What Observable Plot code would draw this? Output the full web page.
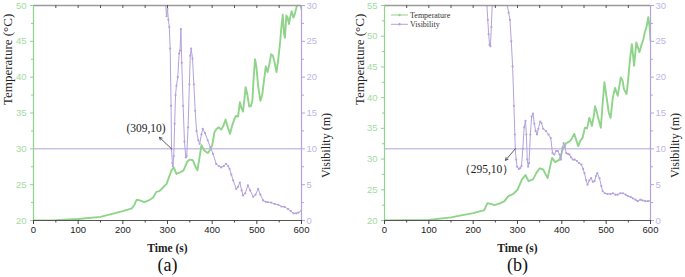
<!DOCTYPE html>
<html><head><meta charset="utf-8">
<script src="https://cdn.jsdelivr.net/npm/d3@7"></script>
<script src="https://cdn.jsdelivr.net/npm/@observablehq/plot@0.6"></script>
<style>
body{margin:0;background:#fff;}
#wrap{position:relative;width:685px;height:277px;display:flex;}
#wrap svg{display:block;}
</style></head><body><div id="wrap"></div>
<script>
// ---- data (time s, value) ----
const tempA = [[0,20],[50,20.05],[100,20.2],[150,20.5],[200,21.3],[220,21.7],[226,22.2],[231,22.9],[238,22.8],[248,22.55],[258,22.8],[268,23.2],[275,24],[282,24.1],[290,24.6],[298,25.1],[303,26],[309,27],[314,27.4],[320,26.5],[328,26.7],[336,27],[344,28.2],[350,28.5],[357,28.4],[362,27.6],[367,27],[371,28.5],[376,30.5],[382,29.8],[390,29.4],[396,29.9],[400,30.5],[405,32.3],[410,32.8],[415,33],[420,32.7],[425,33.2],[430,34.1],[435,33],[440,32.1],[445,33.3],[449,34],[453,34.6],[458,34.5],[462,36.5],[466,35.6],[469,35.2],[472,36.8],[475,38.6],[479,37.5],[483,35.9],[487,36],[490,36.7],[493,40],[496,42.5],[499,41.5],[503,38.7],[508,36.7],[512,37.5],[516,39.5],[520,41.5],[524,40.7],[528,41.8],[532,43.2],[536,43],[540,42],[544,40.7],[548,42.5],[552,44.8],[555,47],[558,48.7],[561,46],[563,45.5],[566,48.6],[569,48.3],[572,47.4],[575,48.5],[578,49.2],[582,48.3],[585,48.8],[589,49.8],[592,50.2],[596,50.4],[600,49.5]];
const visA = [[0,30],[296,30],[298,28.5],[300,29.5],[302,28],[304,27],[306,24],[308,16],[309,10],[311,8],[312,7.6],[314,9],[316,13.5],[318,17.5],[320,18.8],[323,20],[326,23.3],[328,23.7],[330,26.7],[332,22],[335,16],[338,11],[341,8.8],[343,9],[346,13],[349,19],[351,23],[353,24],[356,22.6],[359,19],[362,15.3],[365,12.5],[369,11.2],[372,10.7],[376,12],[379,12.8],[384,12.2],[390,11.2],[396,10.2],[402,9.3],[409,7.9],[415,7.6],[420,7.4],[426,7.6],[431,7.9],[436,7.6],[439,7.2],[443,6.4],[447,5.6],[454,4.4],[458,4.7],[462,5.3],[466,4.2],[469,3.5],[474,3.8],[480,4.9],[485,4.2],[492,3.3],[497,3.6],[503,4.4],[508,3.6],[514,2.8],[520,2.6],[525,2.55],[532,2.5],[540,2.3],[548,2.2],[555,1.95],[562,1.9],[570,1.6],[576,1.3],[582,1.0],[588,1.0],[593,1.1],[600,1.4]];
const tempB = [[0,20],[50,20.05],[100,20.1],[150,20.5],[200,21.2],[225,21.7],[232,22.8],[240,22.7],[248,22.5],[260,22.8],[270,23.1],[280,24],[290,24.3],[300,25],[310,26.7],[318,27.4],[325,26.4],[335,26.7],[343,27.8],[350,28.5],[358,28.3],[363,27.6],[368,26.9],[373,28.6],[378,30.2],[385,29.5],[395,29.9],[402,31.6],[410,32.6],[418,32.9],[423,33.4],[428,34.1],[433,33],[437,32.1],[442,33],[447,33.5],[452,35.1],[457,35],[462,36.7],[468,35.4],[472,37],[475,38.6],[479,37.6],[482,36.7],[488,35.1],[492,39],[496,42.5],[502,39.5],[506,37.5],[510,36.7],[515,40],[520,41.6],[526,40.3],[530,42],[533,43.3],[537,42.8],[540,41.4],[546,40.6],[549,42.5],[552,44.9],[555,47],[558,48.7],[563,45.2],[568,49],[575,47.4],[580,48.7],[584,49.5],[587,50.6],[591,51.5],[595,53.1],[598,51.5],[600,49.3]];
const visB = [[0,30],[231,30],[233,28],[235,26],[237,24.5],[239,24.3],[241,27],[243,30],[277,30],[280,29],[283,28],[286,25],[289,21.5],[292,16],[294,12],[295,10],[297,8.5],[299,7.5],[303,7.2],[306,7.3],[309,7.6],[312,10],[315,13],[318,13.9],[320,12],[322,8.5],[324,7.5],[326,8],[329,12],[332,14.5],[335,14.9],[338,13.5],[341,12.5],[344,12],[347,12.8],[351,13.8],[354,13.6],[358,12.8],[364,12.5],[370,12],[375,11.5],[379,9.4],[383,9.2],[387,9.7],[391,9.7],[395,9.2],[398,8.5],[401,10.1],[404,10.8],[407,10.3],[410,9.4],[414,9.3],[417,9.2],[421,8.8],[425,8.5],[429,8.5],[434,8.3],[439,8],[444,7.8],[448,7.2],[451,6.6],[455,5.6],[458,5.0],[462,5.6],[466,5.9],[470,5.4],[474,5.5],[477,6.2],[480,6.6],[485,5.9],[489,4.8],[492,4.1],[497,3.8],[503,3.7],[510,3.7],[515,3.8],[521,3.6],[526,3.6],[532,3.8],[538,3.8],[544,3.6],[549,3.4],[555,3.3],[560,3.1],[566,2.9],[571,2.7],[577,2.9],[582,2.8],[588,2.7],[594,2.7],[600,2.75]];

const xTicks = [0,100,200,300,400,500,600];
const xMinor = [50,150,250,350,450,550];
const tempTicksA = [20,25,30,35,40,45,50];
const tempTicksB = [20,25,30,35,40,45,50,55];
const visTicks = [0,5,10,15,20,25,30];
const visThreshold = 10;
const annotA = {t:309, v:10, label:"(309,10)", textT:252, textV:12.9, endT:282, endV:11.6};
const annotB = {t:295, v:10, label:"（295,10）", textT:230, textV:7.1, endT:273, endV:8.4};
const legendItems = ["Temperature","Visibility"];
const captions = ["(a)","(b)"];

const green = "#8fd48a", greenTxt = "#a3daa0", purple = "#b4a2dc", purpleTxt = "#c2b4e4";
const serif = "'Times New Roman', 'Liberation Serif', 'DejaVu Serif', serif";
const sans = "Arial, 'Liberation Sans', sans-serif";

function legendMark(items, colors){
  return (index, scales, values, dim) => {
    const g = d3.create("svg:g");
    items.forEach((lab,i)=>{
      const y = dim.marginTop + 10 + i*9.3;
      const x0 = dim.marginLeft + 7;
      g.append("line").attr("x1",x0).attr("x2",x0+17).attr("y1",y).attr("y2",y).attr("stroke",colors[i]).attr("stroke-width",1);
      g.append("circle").attr("cx",x0+8.5).attr("cy",y).attr("r",1.2).attr("fill",colors[i]);
      g.append("text").attr("x",x0+19).attr("y",y).attr("dy","0.32em").attr("text-anchor","start")
        .attr("font-family",serif).attr("font-size",8).attr("fill","#333").text(lab);
    });
    return g.node();
  };
}

function panel({temp, vis, tMax, tempTicks, annot, caption, mL, mR, titleDxL, titleDxR, legend}){
  const W = 342, H = 277, mT = 5, mB = 57;
  const innerH = H - mT - mB;
  const vToT = d3.scaleLinear([0,30],[20,tMax]);
  const tData = temp.map(([t,v])=>({t,v}));
  const vData = vis.map(([t,v])=>({t,v:vToT(v)}));
  const tempMinor = d3.range(20, tMax, 2.5).filter(d=>!tempTicks.includes(d));
  const visMinor = d3.range(2.5, 30, 5).map(vToT);
  const marks = [
    Plot.ruleY([vToT(visThreshold)], {stroke: purple, strokeWidth: 1}),
    Plot.line(tData, {x:"t", y:"v", stroke: green, strokeWidth: 1.9, clip: true}),
    Plot.line(vData, {x:"t", y:"v", stroke: purple, strokeWidth: 1, clip: true}),
    Plot.dot(vData, {x:"t", y:"v", r: 1.1, fill: purple, stroke: null, clip: true}),
    // frame
    Plot.ruleY([tMax], {stroke: "#9a9a9a", strokeWidth: 1.5}),
    Plot.tickX(xTicks.concat(xMinor), {x: d=>d, insetBottom: innerH - 3, stroke: "#555"}),
    Plot.ruleY([20], {stroke: "#555", strokeWidth: 1}),
    Plot.ruleX([0], {stroke: green, strokeWidth: 1.2}),
    Plot.ruleX([600], {stroke: purple, strokeWidth: 1.2}),
    // axes
    Plot.axisX(xTicks, {anchor:"bottom", tickSize: 4, tickPadding: 2, stroke:"#444", fill:"#222", fontSize: 9.5, fontFamily: sans, label: null}),
    Plot.axisX(xMinor, {anchor:"bottom", tickSize: 2.5, tickFormat: ()=>"", stroke:"#444", label: null}),
    Plot.axisY(tempTicks, {anchor:"left", tickSize: 3, tickPadding: 4, stroke: green, fill: greenTxt, fontSize: 9.5, fontFamily: sans, label: null}),
    Plot.axisY(tempMinor, {anchor:"left", tickSize: 2, tickFormat: ()=>"", stroke: green, label: null}),
    Plot.axisY(visTicks.map(vToT), {anchor:"right", tickSize: 3, tickPadding: 2, stroke: purple, fill: purpleTxt, fontSize: 9.5, fontFamily: sans, tickFormat: d=>String(Math.round(vToT.invert(d))), label: null}),
    Plot.axisY(visMinor, {anchor:"right", tickSize: 2, tickFormat: ()=>"", stroke: purple, label: null}),
    // titles
    Plot.text(["Temperature (°C)"], {frameAnchor:"left", rotate:-90, dx: titleDxL, dy: -8, fontFamily: serif, fontSize: 13, fill:"#222"}),
    Plot.text(["Visibility (m)"], {frameAnchor:"right", rotate:-90, dx: titleDxR, dy: 0, fontFamily: serif, fontSize: 12, fill:"#222"}),
    Plot.text(["Time (s)"], {frameAnchor:"bottom", dy: 31, fontFamily: serif, fontSize: 11.5, fontWeight: "bold", fill:"#222"}),
    Plot.text([caption], {frameAnchor:"bottom", dy: 50, fontFamily: serif, fontSize: 18, fill:"#111"}),
    // annotation
    Plot.arrow([annot], {x1:"t", y1: d=>vToT(d.v), x2:"endT", y2: d=>vToT(d.endV), stroke:"#333", strokeWidth: 0.8, headLength: 5, bend: false}),
    Plot.text([annot], {x:"textT", y: d=>vToT(d.textV), text:"label", fontFamily: serif, fontSize: 11.5, fill:"#222"})
  ];
  if (legend) marks.push(legendMark(legendItems, [green, purple]));
  return Plot.plot({
    width: W, height: H,
    marginLeft: mL, marginRight: mR, marginTop: mT, marginBottom: mB,
    x: {domain:[0,600], axis: null},
    y: {domain:[20,tMax], axis: null},
    style: {background:"transparent", overflow:"visible"},
    marks
  });
}

const wrap = document.getElementById("wrap");
wrap.append(panel({temp: tempA, vis: visA, tMax: 50, tempTicks: tempTicksA, annot: annotA, caption: captions[0], mL: 33, mR: 41, titleDxL: -26, titleDxR: 25, legend: false}));
wrap.append(panel({temp: tempB, vis: visB, tMax: 55, tempTicks: tempTicksB, annot: annotB, caption: captions[1], mL: 42, mR: 34, titleDxL: -25, titleDxR: 25, legend: true}));
</script></body></html>
